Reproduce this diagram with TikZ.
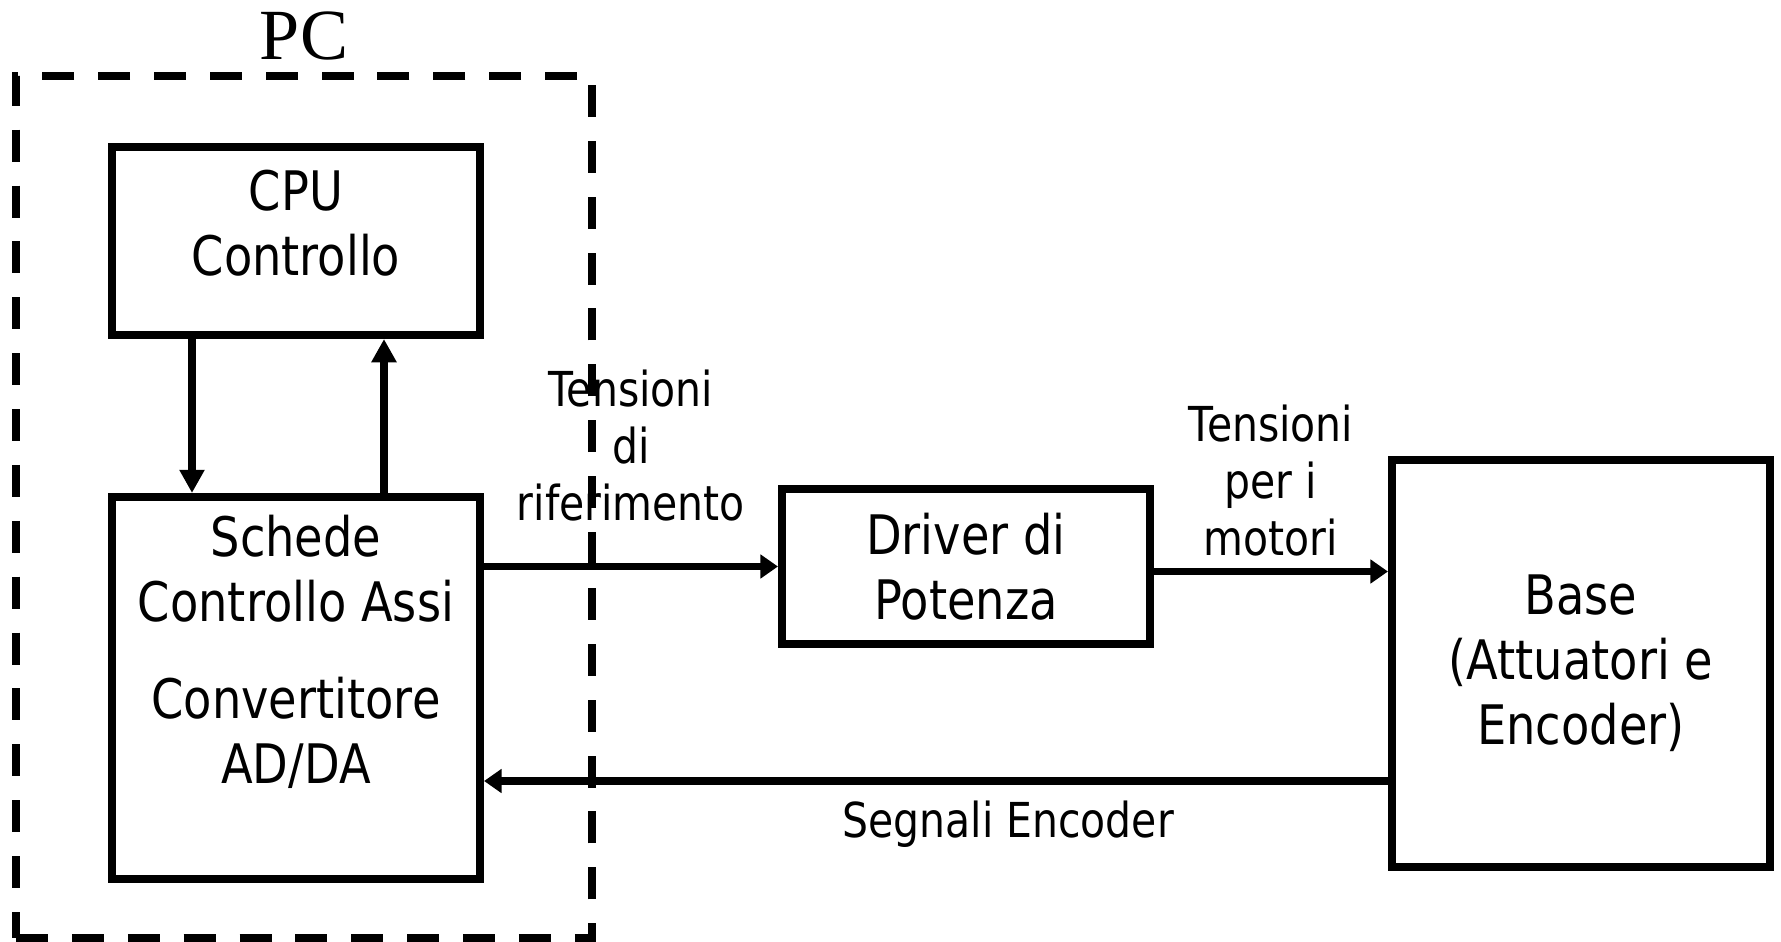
\documentclass[tikz,border=0pt]{standalone}
\usepackage{fontspec}
\setmainfont{DejaVu Sans}[FakeStretch=0.85]
\newfontfamily\pcfont{Liberation Serif}
\usetikzlibrary{arrows.meta, positioning, calc}
\tikzstyle{block} = [draw, rectangle, line width=2.3pt, minimum width=3.68cm, align=center, font=\fontsize{15.5}{18.5}\selectfont]
\tikzstyle{lbl} = [align=center, font=\fontsize{13.7}{16.2}\selectfont]
\tikzstyle{arrow} = [line width=2pt, -{Triangle[length=5pt,width=6.6pt]}]
\tikzstyle{varrow} = [line width=2.2pt, -{Triangle[length=6.6pt,width=6.8pt]}]

\begin{document}
\begin{tikzpicture}[node distance=1.0cm]
    \useasboundingbox (0,0) rectangle (17.81,-9.41);

    % PC frame
    \node (pc) [draw, rectangle, line width=2.3pt, dash pattern=on 9.1pt off 6.8pt, minimum width=5.76cm, minimum height=8.62cm] at (3.04,-5.07) {};
    \node (pclabel) [above=-0.01cm of pc, font=\pcfont\fontsize{20.5}{24}\selectfont] {PC};

    % Blocks
    \node (cpu) [block, minimum height=1.88cm, inner ysep=0pt, text height=36.7pt, text depth=16.8pt] at (2.96,-2.41) {CPU\\Controllo};
    \node (schede) [block, below of=cpu, yshift=-3.47cm, minimum height=3.82cm, inner ysep=0pt, text height=81.4pt, text depth=27.3pt] {Schede\\Controllo Assi\\[9pt]Convertitore\\AD/DA};
    \node (driver) [block, right of=schede, xshift=5.70cm, yshift=1.215cm, minimum height=1.55cm] {Driver di\\Potenza};
    \node (base) [block, right of=driver, xshift=5.15cm, yshift=-0.97cm, minimum width=3.78cm, minimum height=4.07cm] {Base\\(Attuatori e\\Encoder)};

    % Connections
    \draw [varrow] ([xshift=-1.04cm]cpu.south) -- ([xshift=-1.04cm]cpu.south |- schede.north);
    \draw [varrow] ([xshift=0.88cm]schede.north) -- ([xshift=0.88cm]schede.north |- cpu.south);
    \draw [arrow] (driver.west -| schede.east) -- node[lbl, above, yshift=0.3cm] {Tensioni\\di\\riferimento} (driver.west);
    \draw [arrow] ([yshift=-0.05cm]driver.east) -- node[lbl, above] {Tensioni\\per i\\motori} ([yshift=-0.05cm]driver.east -| base.west);
    \draw [arrow] ([yshift=-1.175cm]base.west) -- node[lbl, below, pos=0.42, yshift=-0.05cm] {Segnali Encoder} ([yshift=-1.175cm]base.west -| schede.east);
\end{tikzpicture}
\end{document}
